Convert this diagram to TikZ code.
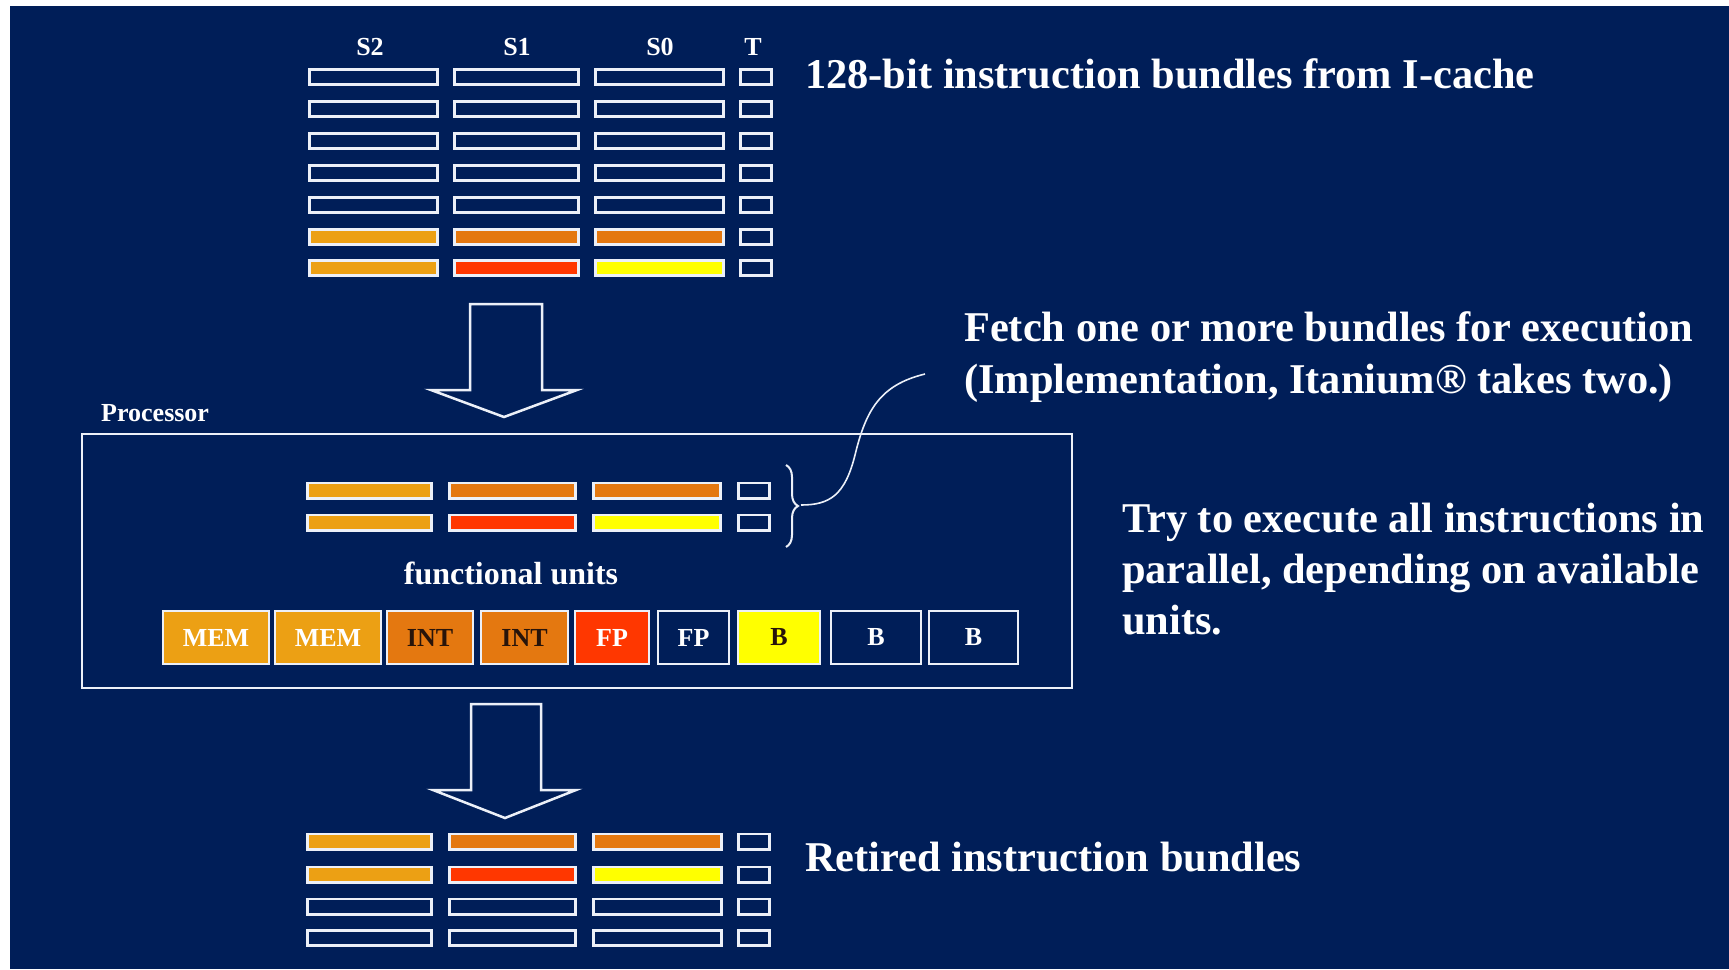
\documentclass[tikz,border=0pt]{standalone}
\usepackage{fontspec}
\setmainfont{Liberation Serif}
\usetikzlibrary{decorations.pathreplacing}
\definecolor{bgc}{RGB}{0,30,88}
\definecolor{linec}{RGB}{236,240,248}
\definecolor{goldc}{RGB}{236,160,20}
\definecolor{orangec}{RGB}{228,120,16}
\definecolor{redc}{RGB}{255,55,0}
\definecolor{yellowc}{RGB}{255,255,0}
\definecolor{darkc}{RGB}{40,20,10}
\begin{document}
\begin{tikzpicture}[x=1pt,y=-1pt,
  bar/.style={draw=linec, line width=2.7pt, inner sep=0pt, minimum height=15.3pt},
  unitbox/.style={draw=linec, line width=2pt, inner sep=0pt, minimum height=53pt,
    font=\fontsize{26}{28}\selectfont\bfseries},
  bigtext/.style={text=white, inner sep=0pt, anchor=base west, font=\fontsize{42.4}{50}\selectfont\bfseries},
  coltext/.style={text=white, inner sep=0pt, font=\fontsize{26}{28}\selectfont\bfseries},
  blockarrow/.style={draw=linec, line width=2.5pt, line join=miter},
  thinline/.style={draw=linec, line width=2pt}
]
\useasboundingbox (0,0) rectangle (1729,969);
\fill[white] (0,0) rectangle (1729,969);
\fill[bgc] (10,6) rectangle (1729,969);

% column headers
\node[coltext] (hS2) at (370,47) {S2};
\node[coltext] (hS1) at (517,47) {S1};
\node[coltext] (hS0) at (660,47) {S0};
\node[coltext] (hT) at (753,47) {T};

% top bundles
\foreach \r/\y in {1/77,2/109,3/141,4/173,5/205,6/237,7/268}{
  \foreach \c/\x/\w in {1/373.5/128.5,2/516.5/124.5,3/659.5/128.5,4/756/31.5}{
    \node[bar, minimum width=\w pt] (top-\r-\c) at (\x,\y) {};
  }
}
\node[bar, minimum width=128.5pt, fill=goldc] at (top-6-1) {};
\node[bar, minimum width=124.5pt, fill=orangec] at (top-6-2) {};
\node[bar, minimum width=128.5pt, fill=orangec] at (top-6-3) {};
\node[bar, minimum width=128.5pt, fill=goldc] at (top-7-1) {};
\node[bar, minimum width=124.5pt, fill=redc] at (top-7-2) {};
\node[bar, minimum width=128.5pt, fill=yellowc] at (top-7-3) {};

\node[bigtext] (cachetxt) at (805,88) {128-bit instruction bundles from I-cache};

% arrow 1
\draw[blockarrow] (470,304) -- (542,304) -- (542,390) -- (577,390) -- (504,417) -- (431,390) -- (470,390) -- cycle;

% processor
\node[coltext, anchor=west] (proclabel) at (101,413) {Processor};
\draw[thinline] (82,434) rectangle (1072,688);

\foreach \r/\y in {1/490.5,2/522.5}{
  \foreach \c/\x/\w/\f in {1/369.5/124.5/goldc,2/512.5/126.5/orangec,3/657/127.5/orangec,4/754/31.5/bgc}{
    \node[bar, minimum width=\w pt, fill=\f] (mid-\r-\c) at (\x,\y) {};
  }
}
\node[bar, minimum width=126.5pt, fill=redc] at (mid-2-2) {};
\node[bar, minimum width=127.5pt, fill=yellowc] at (mid-2-3) {};

\node[coltext, font=\fontsize{32}{34}\selectfont\bfseries] (fu) at (511,573) {functional units};

\foreach \i/\xa/\xb/\f/\t/\lab in {1/162/270/goldc/white/MEM,2/274/382/goldc/white/MEM,
  3/386/474/orangec/darkc/INT,4/480/569/orangec/darkc/INT,5/574/650/redc/white/FP,
  6/657/730/bgc/white/FP,7/737/821/yellowc/darkc/B,8/830/922/bgc/white/B,9/928/1019/bgc/white/B}{
  \pgfmathsetmacro\cx{(\xa+\xb)/2}
  \pgfmathsetmacro\ww{\xb-\xa-2}
  \node[unitbox, fill=\f, text=\t, minimum width=\ww pt] (unit-\i) at (\cx,637.5) {\lab};
}

% brace and callout
\draw[thinline, decorate, decoration={brace, amplitude=12pt}] (786,465) -- (786,547);
\coordinate (bracetip) at (801,505);
\coordinate (calloutend) at (925,374);
\draw[thinline, line width=1.6pt] (bracetip) .. controls (830,505) and (845,495) .. (855,455)
   .. controls (866,410) and (880,385) .. (calloutend);

\node[bigtext] (fetch1) at (964,341) {Fetch one or more bundles for execution};
\node[bigtext] (fetch2) at (964,393) {(Implementation, Itanium® takes two.)};

\node[bigtext] (try1) at (1122,532) {Try to execute all instructions in};
\node[bigtext] (try2) at (1122,583) {parallel, depending on available};
\node[bigtext] (try3) at (1122,634) {units.};

% arrow 2
\draw[blockarrow] (471,704) -- (541,704) -- (541,790) -- (576,790) -- (505,818) -- (433,790) -- (471,790) -- cycle;

% bottom bundles
\foreach \r/\y in {1/841.5,2/874.5,3/906.5,4/938}{
  \foreach \c/\x/\w in {1/369.5/124.5,2/512.5/126.5,3/657.5/128.5,4/754/31.5}{
    \node[bar, minimum width=\w pt] (bot-\r-\c) at (\x,\y) {};
  }
}
\node[bar, minimum width=124.5pt, fill=goldc] at (bot-1-1) {};
\node[bar, minimum width=126.5pt, fill=orangec] at (bot-1-2) {};
\node[bar, minimum width=128.5pt, fill=orangec] at (bot-1-3) {};
\node[bar, minimum width=124.5pt, fill=goldc] at (bot-2-1) {};
\node[bar, minimum width=126.5pt, fill=redc] at (bot-2-2) {};
\node[bar, minimum width=128.5pt, fill=yellowc] at (bot-2-3) {};

\node[bigtext] (retired) at (805,871) {Retired instruction bundles};
\end{tikzpicture}
\end{document}
